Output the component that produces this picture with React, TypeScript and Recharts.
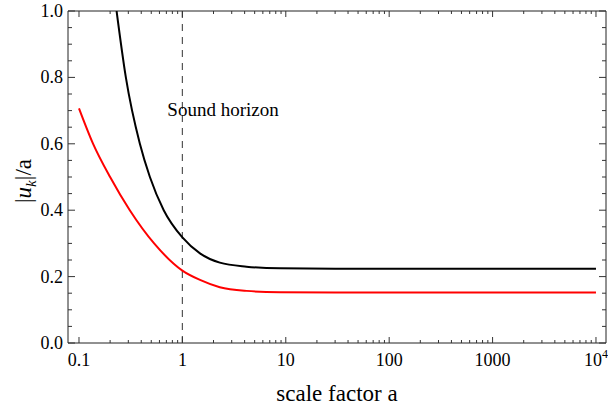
import { LineChart, Line, XAxis, YAxis, ReferenceLine, ReferenceArea } from "recharts"

const aRed = [0.1, 0.137, 0.2, 0.31, 0.533, 1, 1.48, 2.3, 4.17, 8.8, 30, 10000]
const redValues = [0.707, 0.6, 0.5, 0.4, 0.3, 0.218, 0.19, 0.168, 0.157, 0.153, 0.152, 0.152]

const aBlack = [0.231, 0.284, 0.388, 0.485, 0.66, 1, 1.48, 2.3, 4.17, 8.8, 30, 10000]
const blackValues = [1.0, 0.8, 0.6, 0.5, 0.4, 0.318, 0.27, 0.242, 0.23, 0.225, 0.224, 0.224]

const xMajorTicks = [0.1, 1, 10, 100, 1000, 10000]
const xMajorLabels = ["0.1", "1", "10", "100", "1000", "10^4"]
const xMinorTicks = [
  0.2, 0.3, 0.4, 0.5, 0.6, 0.7, 0.8, 0.9,
  2, 3, 4, 5, 6, 7, 8, 9,
  20, 30, 40, 50, 60, 70, 80, 90,
  200, 300, 400, 500, 600, 700, 800, 900,
  2000, 3000, 4000, 5000, 6000, 7000, 8000, 9000,
]
const yMajorTicks = [0, 0.2, 0.4, 0.6, 0.8, 1.0]
const yMinorTicks = [0.05, 0.1, 0.15, 0.25, 0.3, 0.35, 0.45, 0.5, 0.55, 0.65, 0.7, 0.75, 0.85, 0.9, 0.95]

const soundHorizonX = 1

const redData = aRed.map((a, i) => ({ a, v: redValues[i] }))
const blackData = aBlack.map((a, i) => ({ a, v: blackValues[i] }))

const PLOT_LEFT = 68
const PLOT_RIGHT = 606
const PLOT_TOP = 11
const PLOT_BOTTOM = 343
const FONT = "'Liberation Serif', 'Times New Roman', serif"
const TICK_COLOR = "#333"

const XTick = (props: any) => {
  const { x, payload } = props
  const idx = xMajorTicks.indexOf(payload.value)
  const major = idx >= 0
  const len = major ? 6 : 3
  const label = major ? xMajorLabels[idx] : null
  return (
    <g>
      <line x1={x} x2={x} y1={PLOT_BOTTOM} y2={PLOT_BOTTOM - len} stroke={TICK_COLOR} />
      <line x1={x} x2={x} y1={PLOT_TOP} y2={PLOT_TOP + len} stroke={TICK_COLOR} />
      {label && label.includes("^") ? (
        <text x={x} y={366} textAnchor="middle" fontFamily={FONT} fontSize={18} fill="#000">
          {label.split("^")[0]}
          <tspan dy={-8} fontSize={12}>{label.split("^")[1]}</tspan>
        </text>
      ) : label ? (
        <text x={x} y={366} textAnchor="middle" fontFamily={FONT} fontSize={18} fill="#000">
          {label}
        </text>
      ) : null}
    </g>
  )
}

const YTick = (props: any) => {
  const { y, payload } = props
  const major = yMajorTicks.some((t) => Math.abs(t - payload.value) < 1e-9)
  const len = major ? 7 : 4
  return (
    <g>
      <line x1={PLOT_LEFT} x2={PLOT_LEFT + len} y1={y} y2={y} stroke={TICK_COLOR} />
      <line x1={PLOT_RIGHT} x2={PLOT_RIGHT - len} y1={y} y2={y} stroke={TICK_COLOR} />
      {major && (
        <text x={63} y={y + 6} textAnchor="end" fontFamily={FONT} fontSize={18} fill="#000">
          {payload.value.toFixed(1)}
        </text>
      )}
    </g>
  )
}

export default function App() {
  const xTicks = [...xMajorTicks, ...xMinorTicks].sort((p, q) => p - q)
  const yTicks = [...yMajorTicks, ...yMinorTicks].sort((p, q) => p - q)

  return (
    <div style={{ position: "absolute", left: 0, top: 0, width: 608, height: 405, background: "#fff" }}>
      <LineChart width={608} height={405} margin={{ top: PLOT_TOP, right: 2, bottom: 0, left: 0 }}>
        <XAxis
          dataKey="a"
          type="number"
          scale="log"
          domain={[0.0783, 12500]}
          allowDataOverflow
          ticks={xTicks}
          interval={0}
          tick={<XTick />}
          tickLine={false}
          axisLine={false}
          height={62}
          label={{
            content: () => (
              <text x={337} y={401} textAnchor="middle" fontFamily={FONT} fontSize={23} fill="#000">
                scale factor a
              </text>
            ),
          }}
        />
        <YAxis
          type="number"
          domain={[0, 1]}
          allowDataOverflow
          ticks={yTicks}
          interval={0}
          tick={<YTick />}
          tickLine={false}
          axisLine={false}
          width={68}
          label={{
            content: () => (
              <text transform="translate(31,181) rotate(-90)" textAnchor="middle" fontFamily={FONT} fontSize={23} fill="#000">
                |<tspan fontStyle="italic">u</tspan>
                <tspan fontStyle="italic" fontSize={15} dy={5}>k</tspan>
                <tspan dy={-5}>|/a</tspan>
              </text>
            ),
          }}
        />
        <ReferenceArea
          x1={0.0783}
          x2={12500}
          y1={0}
          y2={1}
          fill="none"
          stroke="#222"
          strokeWidth={1}
          ifOverflow="visible"
        />
        <ReferenceLine
          x={soundHorizonX}
          stroke="#555"
          strokeDasharray="7 6"
          strokeWidth={1.2}
          label={{
            content: () => (
              <text x={223} y={116} textAnchor="middle" fontFamily={FONT} fontSize={19} fill="#000">
                Sound horizon
              </text>
            ),
          }}
        />
        <Line
          data={blackData}
          dataKey="v"
          type="monotone"
          stroke="#000"
          strokeWidth={2}
          dot={false}
          isAnimationActive={false}
        />
        <Line
          data={redData}
          dataKey="v"
          type="monotone"
          stroke="#ff0000"
          strokeWidth={2}
          dot={false}
          isAnimationActive={false}
        />
      </LineChart>
    </div>
  )
}
